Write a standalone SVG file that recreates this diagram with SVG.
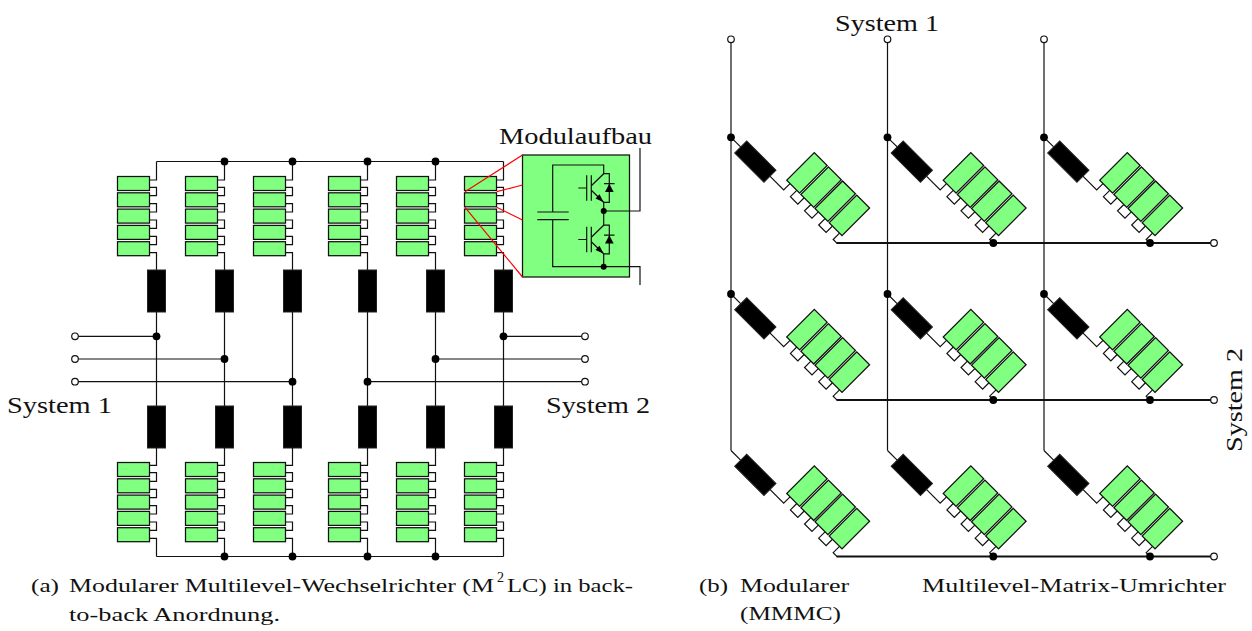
<svg xmlns="http://www.w3.org/2000/svg" xmlns:xlink="http://www.w3.org/1999/xlink" width="1252" height="631" viewBox="0 0 1252 631">
<style>
text{font-family:"Liberation Serif","Times New Roman",serif;fill:#111}
.lbl{font-size:24px}
.cap{font-size:19.5px}
.sup{font-size:14px}
.ln{fill:none;stroke:#111;stroke-width:1.2}
.bus{fill:none;stroke:#111;stroke-width:1.9}
.m{fill:#80ff80;stroke:#111;stroke-width:1.25}
.L{fill:#000;stroke:#222;stroke-width:1}
.dot{fill:#000}
.open{fill:#fff;stroke:#111;stroke-width:1.2}
.red{fill:none;stroke:#f00;stroke-width:1.2}
</style>
<defs>
<g id="armTop">
<path class="ln" d="M0,161.5V180H-7M-7,187.3H0V195.7H-7M-7,203.6H0V212H-7M-7,220H0V228.3H-7M-7,236.3H0V244.7H-7M-7,252.7H0V270"/>
<rect class="m" x="-39" y="176.5" width="32" height="14"/>
<rect class="m" x="-39" y="192.8" width="32" height="14"/>
<rect class="m" x="-39" y="209.1" width="32" height="14"/>
<rect class="m" x="-39" y="225.4" width="32" height="14"/>
<rect class="m" x="-39" y="241.7" width="32" height="14"/>
<rect class="L" x="-9" y="270" width="18" height="42"/>
</g>
<g id="armBottom">
<rect class="L" x="-9" y="406" width="18" height="42"/>
<path class="ln" d="M0,448V465.3H-7M-7,472.7H0V481.3H-7M-7,489.3H0V497.7H-7M-7,505.7H0V514H-7M-7,522H0V530.3H-7M-7,538.3H0V556.5"/>
<rect class="m" x="-39" y="462.5" width="32" height="14"/>
<rect class="m" x="-39" y="478.8" width="32" height="14"/>
<rect class="m" x="-39" y="495.1" width="32" height="14"/>
<rect class="m" x="-39" y="511.4" width="32" height="14"/>
<rect class="m" x="-39" y="527.7" width="32" height="14"/>
</g>
<g id="armDiag">
<path class="ln" d="M0,0H14M55,0H74.5V-9M84,-9V0H94.5V-9M104,-9V0H114.5V-9M124,-9V0H134.5V-9M144.5,-9V0H150"/>
<rect class="L" x="13.7" y="-8.5" width="41.4" height="17"/>
<rect class="m" x="69.8" y="-48" width="18.2" height="39"/>
<rect class="m" x="89.8" y="-48" width="18.2" height="39"/>
<rect class="m" x="109.8" y="-48" width="18.2" height="39"/>
<rect class="m" x="129.8" y="-48" width="18.2" height="39"/>
</g>
<g id="igbt">
<path class="ln" d="M578.3,188H586.7M586.7,175.3V200.7M591.3,175.3V200.7M591.3,185.7L603.7,173.7H609.3V202.3H603.7L591.3,190.3M604,183.7H614.5"/>
<polygon class="dot" points="605,192 613.7,192 609.3,183.7"/>
<polygon class="dot" points="603.7,202.3 595.5,198.5 599.5,194.3"/>
</g>
</defs>

<g id="connectors">
<path class="ln" d="M156.5,161.5H503.5M156.5,556.5H503.5"/>
<path class="ln" d="M156.5,312V406M224.5,312V406M292.5,312V406M367.5,312V406M435.5,312V406M503.5,312V406"/>
<path class="ln" d="M75,336.3H156.5M75,359H224.5M75,381.7H292.5M367.5,381.7H585M435.5,359H585M503.5,336.3H585"/>
<path class="ln" d="M731,39V450.5M887.5,39V450.5M1044,39V450.5"/>
<path class="bus" d="M836.5,243H1214M836.5,400H1214M836.5,556.5H1214"/>
</g>

<g id="a-top-1"><use xlink:href="#armTop" transform="translate(156.5,0)"/></g>
<g id="a-top-2"><use xlink:href="#armTop" transform="translate(224.5,0)"/></g>
<g id="a-top-3"><use xlink:href="#armTop" transform="translate(292.5,0)"/></g>
<g id="a-top-4"><use xlink:href="#armTop" transform="translate(367.5,0)"/></g>
<g id="a-top-5"><use xlink:href="#armTop" transform="translate(435.5,0)"/></g>
<g id="a-top-6"><use xlink:href="#armTop" transform="translate(503.5,0)"/></g>
<g id="a-bot-1"><use xlink:href="#armBottom" transform="translate(156.5,0)"/></g>
<g id="a-bot-2"><use xlink:href="#armBottom" transform="translate(224.5,0)"/></g>
<g id="a-bot-3"><use xlink:href="#armBottom" transform="translate(292.5,0)"/></g>
<g id="a-bot-4"><use xlink:href="#armBottom" transform="translate(367.5,0)"/></g>
<g id="a-bot-5"><use xlink:href="#armBottom" transform="translate(435.5,0)"/></g>
<g id="a-bot-6"><use xlink:href="#armBottom" transform="translate(503.5,0)"/></g>

<g id="a-junctions">
<circle class="dot" cx="224.5" cy="161.5" r="3.9"/><circle class="dot" cx="292.5" cy="161.5" r="3.9"/><circle class="dot" cx="367.5" cy="161.5" r="3.9"/><circle class="dot" cx="435.5" cy="161.5" r="3.9"/>
<circle class="dot" cx="224.5" cy="556.5" r="3.9"/><circle class="dot" cx="292.5" cy="556.5" r="3.9"/><circle class="dot" cx="367.5" cy="556.5" r="3.9"/><circle class="dot" cx="435.5" cy="556.5" r="3.9"/>
<circle class="dot" cx="156.5" cy="336.3" r="3.9"/><circle class="dot" cx="224.5" cy="359" r="3.9"/><circle class="dot" cx="292.5" cy="381.7" r="3.9"/><circle class="dot" cx="367.5" cy="381.7" r="3.9"/><circle class="dot" cx="435.5" cy="359" r="3.9"/><circle class="dot" cx="503.5" cy="336.3" r="3.9"/>
</g>
<g id="a-terminals">
<circle class="open" cx="75" cy="336.3" r="3.3"/><circle class="open" cx="75" cy="359" r="3.3"/><circle class="open" cx="75" cy="381.7" r="3.3"/>
<circle class="open" cx="585" cy="336.3" r="3.3"/><circle class="open" cx="585" cy="359" r="3.3"/><circle class="open" cx="585" cy="381.7" r="3.3"/>
</g>

<g id="modul-detail">
<rect class="m" x="522.5" y="155" width="107" height="122"/>
<path class="red" d="M465,191.7L522.5,155M496.7,191.7L522.5,185M496.7,207.3L522.5,220M465,207.3L522.5,277"/>
<path class="ln" d="M568.7,212H537.3M568.7,219.7H537.3M552.7,212V165H603.7V173.7M552.7,219.7V266.7H640V285M603.7,202.3V225.4M603.7,254V266.7M603.7,211H640V148"/>
<use xlink:href="#igbt"/>
<use xlink:href="#igbt" transform="translate(0,51.5)"/>
<circle class="dot" cx="603.7" cy="211" r="3"/>
<circle class="dot" cx="603.7" cy="266.7" r="3"/>
</g>

<g id="b-11"><use xlink:href="#armDiag" transform="translate(731,137.3) rotate(45)"/></g>
<g id="b-12"><use xlink:href="#armDiag" transform="translate(887.5,137.3) rotate(45)"/></g>
<g id="b-13"><use xlink:href="#armDiag" transform="translate(1044,137.3) rotate(45)"/></g>
<g id="b-21"><use xlink:href="#armDiag" transform="translate(731,294) rotate(45)"/></g>
<g id="b-22"><use xlink:href="#armDiag" transform="translate(887.5,294) rotate(45)"/></g>
<g id="b-23"><use xlink:href="#armDiag" transform="translate(1044,294) rotate(45)"/></g>
<g id="b-31"><use xlink:href="#armDiag" transform="translate(731,450.5) rotate(45)"/></g>
<g id="b-32"><use xlink:href="#armDiag" transform="translate(887.5,450.5) rotate(45)"/></g>
<g id="b-33"><use xlink:href="#armDiag" transform="translate(1044,450.5) rotate(45)"/></g>

<g id="b-junctions">
<circle class="dot" cx="731" cy="137.3" r="3.9"/><circle class="dot" cx="887.5" cy="137.3" r="3.9"/><circle class="dot" cx="1044" cy="137.3" r="3.9"/>
<circle class="dot" cx="731" cy="294" r="3.9"/><circle class="dot" cx="887.5" cy="294" r="3.9"/><circle class="dot" cx="1044" cy="294" r="3.9"/>
<circle class="dot" cx="993.3" cy="243" r="3.9"/><circle class="dot" cx="1150" cy="243" r="3.9"/>
<circle class="dot" cx="993.3" cy="400" r="3.9"/><circle class="dot" cx="1150" cy="400" r="3.9"/>
<circle class="dot" cx="993.3" cy="556.5" r="3.9"/><circle class="dot" cx="1150" cy="556.5" r="3.9"/>
</g>
<g id="b-terminals">
<circle class="open" cx="731" cy="39.3" r="3.3"/><circle class="open" cx="887.5" cy="39.3" r="3.3"/><circle class="open" cx="1044" cy="39.3" r="3.3"/>
<circle class="open" cx="1214" cy="243" r="3.3"/><circle class="open" cx="1214" cy="400" r="3.3"/><circle class="open" cx="1214" cy="556.5" r="3.3"/>
</g>

<g id="labels">
<text class="lbl" x="499" y="144" textLength="153" lengthAdjust="spacingAndGlyphs">Modulaufbau</text>
<text class="lbl" x="7" y="413" textLength="105" lengthAdjust="spacingAndGlyphs">System 1</text>
<text class="lbl" x="546" y="413" textLength="104" lengthAdjust="spacingAndGlyphs">System 2</text>
<text class="lbl" x="835" y="31" textLength="104" lengthAdjust="spacingAndGlyphs">System 1</text>
<text class="lbl" transform="translate(1242,452) rotate(-90)" textLength="104" lengthAdjust="spacingAndGlyphs">System 2</text>
<text class="cap" x="31" y="591.5" textLength="28" lengthAdjust="spacingAndGlyphs">(a)</text>
<text class="cap" x="69" y="591.5" textLength="425" lengthAdjust="spacingAndGlyphs">Modularer Multilevel-Wechselrichter (M</text>
<text class="sup" x="497" y="582">2</text>
<text class="cap" x="507" y="591.5" textLength="126" lengthAdjust="spacingAndGlyphs">LC) in back-</text>
<text class="cap" x="69" y="621" textLength="211" lengthAdjust="spacingAndGlyphs">to-back Anordnung.</text>
<text class="cap" x="699" y="591.5" textLength="29" lengthAdjust="spacingAndGlyphs">(b)</text>
<text class="cap" x="740" y="591.5" textLength="109" lengthAdjust="spacingAndGlyphs">Modularer</text>
<text class="cap" x="922" y="591.5" textLength="304" lengthAdjust="spacingAndGlyphs">Multilevel-Matrix-Umrichter</text>
<text class="cap" x="740" y="620" textLength="101" lengthAdjust="spacingAndGlyphs">(MMMC)</text>
</g>
</svg>
